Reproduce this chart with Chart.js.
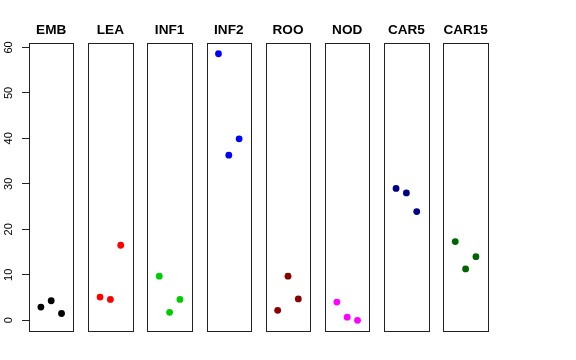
<!DOCTYPE html>
<html>
<head>
<meta charset="utf-8">
<script src="https://cdn.jsdelivr.net/npm/chart.js@4"></script>
<style>
  html, body { margin: 0; padding: 0; background: #fff; }
  #wrap { position: relative; width: 576px; height: 360px; }
  .panel { position: absolute; top: 0; }
</style>
</head>
<body>
<div id="wrap"></div>
<script>
const groups = ['EMB', 'LEA', 'INF1', 'INF2', 'ROO', 'NOD', 'CAR5', 'CAR15'];
const groupColors = ['#000000', '#ff0000', '#00cd00', '#0000ff', '#8b0000', '#ff00ff', '#00008b', '#006400'];
const xSlots = [1, 2, 3];
const embValues   = [2.9, 4.3, 1.5];
const leaValues   = [5.1, 4.6, 16.5];
const inf1Values  = [9.7, 1.75, 4.6];
const inf2Values  = [58.6, 36.3, 39.9];
const rooValues   = [2.2, 9.7, 4.7];
const nodValues   = [4.0, 0.7, 0.0];
const car5Values  = [29.0, 28.0, 23.9];
const car15Values = [17.3, 11.3, 14.0];
const yTicks = [0, 10, 20, 30, 40, 50, 60];

const series = [embValues, leaValues, inf1Values, inf2Values, rooValues, nodValues, car5Values, car15Values];

// layout of the strip panels
const firstLeft = 29, step = 59.2, boxW = 44.4;
const boxTop = 43.3, boxBottom = 331;

const boxPlugin = {
    id: 'box',
    afterDraw(c) {
        const a = c.chartArea, ctx = c.ctx;
        ctx.save();
        ctx.strokeStyle = '#222';
        ctx.lineWidth = 1;
        ctx.strokeRect(Math.round(a.left) + 0.5, Math.round(a.top) + 0.5,
            Math.round(a.right) - Math.round(a.left), Math.round(a.bottom) - Math.round(a.top));
        ctx.restore();
    }
};

groups.forEach((name, i) => {
    const boxLeft = firstLeft + i * step;
    const first = i === 0;
    const divLeft = first ? 0 : Math.floor(boxLeft) - 4;
    const divW = first ? Math.ceil(boxLeft + boxW) + 4 : 54;
    const padLeft = first ? 0 : boxLeft - divLeft;
    const padRight = divW - (boxLeft + boxW - divLeft);

    const div = document.createElement('div');
    div.className = 'panel';
    div.style.left = divLeft + 'px';
    div.style.width = divW + 'px';
    div.style.height = '360px';
    const canvas = document.createElement('canvas');
    canvas.width = divW;
    canvas.height = 360;
    canvas.style.width = divW + 'px';
    canvas.style.height = '360px';
    div.appendChild(canvas);
    document.getElementById('wrap').appendChild(div);

    new Chart(canvas.getContext('2d'), {
        type: 'scatter',
        data: {
            datasets: [{
                label: name,
                data: xSlots.map((x, k) => ({ x: x, y: series[i][k] })),
                backgroundColor: groupColors[i],
                borderWidth: 0,
                pointRadius: 3.4,
                clip: false
            }]
        },
        options: {
            responsive: false,
            animation: false,
            devicePixelRatio: 1,
            layout: { padding: { left: padLeft, right: padRight, top: 0, bottom: 360 - boxBottom } },
            plugins: {
                legend: { display: false },
                tooltip: { enabled: false },
                title: {
                    display: true,
                    text: name,
                    fullSize: false,
                    color: '#000',
                    font: { family: 'Liberation Sans, Arial, sans-serif', size: 13.6, weight: 'bold', lineHeight: 1.2 },
                    padding: { top: 22.2, bottom: boxTop - 22.2 - 13.6 * 1.2 }
                }
            },
            scales: {
                x: { type: 'linear', min: -0.15, max: 4.15, display: false },
                y: {
                    type: 'linear',
                    min: -2.35,
                    max: 60.9,
                    display: first,
                    afterFit(scale) { if (first) scale.width = firstLeft; },
                    afterBuildTicks(scale) { scale.ticks = yTicks.map(v => ({ value: v })); },
                    border: { display: false },
                    grid: { drawOnChartArea: false, drawTicks: true, tickLength: 7, color: '#222', tickWidth: 1 },
                    ticks: {
                        minRotation: 90,
                        maxRotation: 90,
                        crossAlign: 'center',
                        padding: 7,
                        color: '#000',
                        font: { family: 'Liberation Sans, Arial, sans-serif', size: 11 }
                    }
                }
            }
        },
        plugins: [boxPlugin]
    });
});
</script>
</body>
</html>
